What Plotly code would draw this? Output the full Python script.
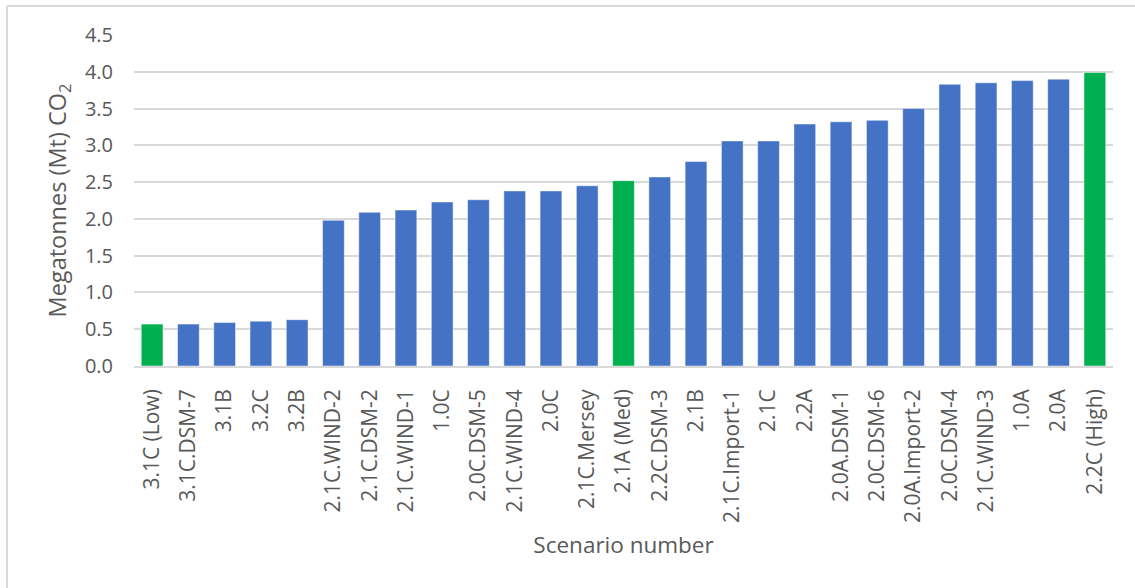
import plotly.graph_objects as go

scenarios = ["3.1C (Low)", "3.1C.DSM-7", "3.1B", "3.2C", "3.2B", "2.1C.WIND-2", "2.1C.DSM-2",
             "2.1C.WIND-1", "1.0C", "2.0C.DSM-5", "2.1C.WIND-4", "2.0C", "2.1C.Mersey",
             "2.1A (Med)", "2.2C.DSM-3", "2.1B", "2.1C.Import-1", "2.1C", "2.2A", "2.0A.DSM-1",
             "2.0C.DSM-6", "2.0A.Import-2", "2.0C.DSM-4", "2.1C.WIND-3", "1.0A", "2.0A", "2.2C (High)"]
emissions = [0.57, 0.57, 0.59, 0.61, 0.63, 1.98, 2.09, 2.12, 2.23, 2.26, 2.38, 2.38, 2.45,
             2.52, 2.57, 2.78, 3.06, 3.06, 3.29, 3.32, 3.34, 3.50, 3.83, 3.85, 3.88, 3.90, 3.99]
highlight = ["3.1C (Low)", "2.1A (Med)", "2.2C (High)"]
y_ticks = [0.0, 0.5, 1.0, 1.5, 2.0, 2.5, 3.0, 3.5, 4.0, 4.5]

BLUE = "#4472C4"
GREEN = "#00B050"
colors = [GREEN if s in highlight else BLUE for s in scenarios]

fig = go.Figure(go.Bar(
    x=scenarios, y=emissions,
    marker=dict(color=colors, line=dict(color="rgba(255,255,255,0.6)", width=0.8)),
))

font = "Open Sans"
fig.update_layout(
    width=1135, height=588,
    margin=dict(l=134, r=22, t=35, b=222),
    paper_bgcolor="white", plot_bgcolor="white",
    bargap=0.4, showlegend=False,
    font=dict(family=font, color="#595959", size=18),
)
fig.update_xaxes(
    tickangle=-90, tickfont=dict(size=21, color="#595959"),
    ticklabelstandoff=13, showgrid=False,
    showline=True, linecolor="#d9d9d9", linewidth=1.5,
    title=dict(text="Scenario number", font=dict(size=22.5, color="#595959"), standoff=15),
)
fig.update_yaxes(
    range=[0, 4.5], tickvals=y_ticks, ticktext=[f"{v:.1f}" for v in y_ticks],
    tickfont=dict(size=20, color="#595959"), ticklabelstandoff=20,
    showgrid=True, gridcolor="#d9d9d9", gridwidth=1.5, zeroline=False,
    title=dict(text="Megatonnes (Mt) CO<sub>2</sub>", font=dict(size=23.5, color="#595959"), standoff=11),
)

# outer frame (chart area border)
fig.add_shape(type="line", xref="paper", yref="paper",
              x0=(7 - 134) / 979, x1=(1140 - 134) / 979, y0=(366 - 6) / 331, y1=(366 - 6) / 331,
              line=dict(color="#d9d9d9", width=2))
fig.add_shape(type="line", xref="paper", yref="paper",
              x0=(7 - 134) / 979, x1=(7 - 134) / 979, y0=(366 - 6) / 331, y1=(366 - 600) / 331,
              line=dict(color="#d9d9d9", width=2))

fig.write_html("out.html", config={"displayModeBar": False},
               post_script="document.body.style.margin='0';")
